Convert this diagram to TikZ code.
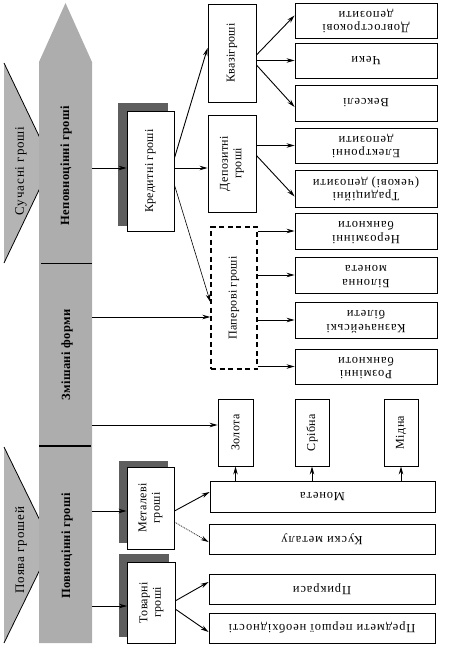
\documentclass[tikz,border=0pt]{standalone}
\usepackage{fontspec}
\setmainfont{Liberation Serif}
\newfontfamily\widef[LetterSpace=7]{Liberation Serif}
\newfontfamily\medf[LetterSpace=3]{Liberation Serif}
\usepackage{graphicx}
\usetikzlibrary{arrows.meta,calc}
\definecolor{colgray}{HTML}{ADADAD}
\definecolor{trigray}{HTML}{B4B4B4}
\definecolor{shadowc}{HTML}{5E5E5E}
\newcommand\upr[1]{\rotatebox{90}{#1}}
\newcommand\upd[1]{\rotatebox{180}{#1}}
\newcommand\twol[2]{\begin{tabular}{@{}c@{}}#1\\#2\end{tabular}}
\begin{document}
\begin{tikzpicture}[x=1pt,y=-1pt,
  box/.style={draw, line width=0.9pt, fill=white, inner sep=0pt, align=center},
  wbox/.style={box, font=\fontsize{12.5}{13.5}\selectfont\widef},
  mbox/.style={box, font=\fontsize{12}{13.5}\selectfont\medf},
  shd/.style={fill=shadowc},
  arr/.style={-{Stealth[length=8pt,width=4.5pt]}, line width=0.9pt},
  collab/.style={rotate=90, font=\fontsize{12.5}{14}\selectfont\bfseries\medf},
  trilab/.style={rotate=90, font=\fontsize{13}{14}\selectfont\widef}]
\useasboundingbox (0,0) rectangle (465,647);
% left triangles
\fill[trigray] (4,63) -- (52,163) -- (4,263) -- cycle;
\draw[line width=0.8pt] (4,63) -- (52,163) -- (4,263);
\fill[trigray] (4,447) -- (52,545) -- (4,643) -- cycle;
\draw[line width=0.8pt] (4,447) -- (52,545) -- (4,643);
\node[trilab] (t1) at (21,171) {Сучасні гроші};
\node[trilab] (t2) at (21,550) {Поява грошей};
% grey column
\fill[colgray] (39,643) -- (39,62) -- (65.5,3) -- (92,62) -- (92,643) -- cycle;
\draw[line width=0.6pt] (41,263) -- (92,263);
\draw[line width=1.2pt] (39,446) -- (91,446);
\node[collab] (l1) at (66,166) {Неповноцінні гроші};
\node[collab] (l2) at (67,355) {Змішані форми};
\node[collab] (l3) at (67,546) {Повноцінні гроші};
\coordinate (c1) at (92,168);
\coordinate (c2) at (92,317);
\coordinate (c3) at (92,425);
\coordinate (c4) at (92,511);
\coordinate (c5) at (92,606);
% shadowed boxes
\fill[shd] (118,103) rectangle (168,226);
\node[mbox, minimum width=47pt, minimum height=120pt] (kredyt) at (150.5,171) {\upr{Кредитні гроші}};
\fill[shd] (119,461) rectangle (168,543);
\node[mbox, minimum width=47pt, minimum height=82pt] (metal) at (150.5,508) {\upr{\twol{Металеві}{гроші}}};
\fill[shd] (119,554) rectangle (169,637);
\node[mbox, minimum width=48pt, minimum height=81pt] (tovar) at (151.5,602.5) {\upr{\twol{Товарні}{гроші}}};
% middle boxes
\node[mbox, minimum width=48pt, minimum height=98pt] (kvazi) at (232,53) {\upr{Квазігроші}};
\node[mbox, minimum width=48pt, minimum height=97pt] (depoz) at (232,163.5) {\upr{\twol{Депозитні}{гроші}}};
\node[mbox, dashed, dash pattern=on 5pt off 3.5pt, line width=1.4pt, minimum width=46pt, minimum height=142pt] (paper) at (234,298) {\upr{Паперові гроші}};
\node[mbox, minimum width=35pt, minimum height=67pt] (zolota) at (235.5,432.5) {\upr{Золота}};
\node[mbox, minimum width=34pt, minimum height=67pt] (sribna) at (312,432.5) {\upr{Срібна}};
\node[mbox, minimum width=34pt, minimum height=67pt] (midna) at (401,432.5) {\upr{Мідна}};
% right boxes
\node[wbox, minimum width=142pt, minimum height=35pt] (dov) at (366,20.5) {\upd{\twol{Довгострокові}{депозити}}};
\node[wbox, minimum width=142pt, minimum height=35pt] (cheky) at (366,60.5) {\upd{Чеки}};
\node[wbox, minimum width=142pt, minimum height=36pt] (veksel) at (366,103) {\upd{Векселі}};
\node[wbox, minimum width=142pt, minimum height=35pt] (elektr) at (366,145.5) {\upd{\twol{Електронні}{депозити}}};
\node[wbox, minimum width=142pt, minimum height=37pt] (trad) at (366,188.5) {\upd{\twol{Традиційні}{(чекові) депозити}}};
\node[wbox, minimum width=142pt, minimum height=36pt] (nerozm) at (366,231) {\upd{\twol{Нерозмінні}{банкноти}}};
\node[wbox, minimum width=142pt, minimum height=36pt] (bilon) at (366,275) {\upd{\twol{Білонна}{монета}}};
\node[wbox, minimum width=142pt, minimum height=36pt] (kazn) at (366,320) {\upd{\twol{Казначейські}{білети}}};
\node[wbox, minimum width=142pt, minimum height=35pt] (rozm) at (366,366.5) {\upd{\twol{Розмінні}{банкноти}}};
% bottom wide boxes
\node[wbox, minimum width=225pt, minimum height=31pt] (moneta) at (322.5,496.5) {\upd{Монета}};
\node[wbox, minimum width=226pt, minimum height=30pt] (kusky) at (322,539) {\upd{Куски металу}};
\node[wbox, minimum width=226pt, minimum height=30pt] (prykr) at (322,589) {\upd{Прикраси}};
\node[wbox, minimum width=226pt, minimum height=30pt] (predm) at (322,628) {\upd{Предмети першої необхідності}};
% connectors from column
\draw[arr] (c1) -- (c1 -| kredyt.west);
\draw[arr] (c2) -- (c2 -| paper.west);
\draw[arr] (c3) -- (c3 -| zolota.west);
\draw[arr] (c4) -- (c4 -| metal.west);
\draw[arr] (c5) -- (c5 -| tovar.west);
% credit money
\draw[arr] ([yshift=13pt]kredyt.east) -- ([yshift=5pt]kvazi.west);
\coordinate (k2) at ([yshift=3pt]kredyt.east);
\draw[arr] (k2) -- (k2 -| depoz.west);
\draw[arr, line width=0.6pt] ([yshift=-14pt]kredyt.east) -- ([yshift=-4pt]paper.west);
% quasi money
\draw[arr] ([yshift=-2pt]kvazi.east) -- ([yshift=5pt]dov.west);
\draw[arr] (kvazi.east |- cheky.west) -- (cheky.west);
\draw[arr] ([yshift=-12pt]kvazi.east) -- ([yshift=-4pt]veksel.west);
% deposit money
\draw[arr] (depoz.east |- elektr.west) -- (elektr.west);
\draw[arr] ([yshift=8pt]depoz.east) -- ([yshift=-8pt]trad.west);
% paper money
\draw[arr] (paper.east |- nerozm.west) -- (nerozm.west);
\draw[arr] (paper.east |- bilon.west) -- (bilon.west);
\draw[arr] (paper.east |- kazn.west) -- (kazn.west);
\draw[arr] (paper.east |- rozm.west) -- (rozm.west);
% coins
\draw[arr] (zolota.south |- moneta.north) -- (zolota.south);
\draw[arr] (sribna.south |- moneta.north) -- (sribna.south);
\draw[arr] (midna.south |- moneta.north) -- (midna.south);
% metal money
\draw[arr] ([yshift=-3pt]metal.east) -- ([yshift=4.5pt]moneta.west);
\draw[arr, densely dotted, line width=0.7pt] ([yshift=-14pt]metal.east) -- ([yshift=-3pt]kusky.west);
% commodity money
\draw[arr] ([yshift=2pt]tovar.east) -- ([yshift=7pt]prykr.west);
\draw[arr] ([yshift=-7pt]tovar.east) -- ([yshift=-4pt]predm.west);
\end{tikzpicture}
\end{document}
